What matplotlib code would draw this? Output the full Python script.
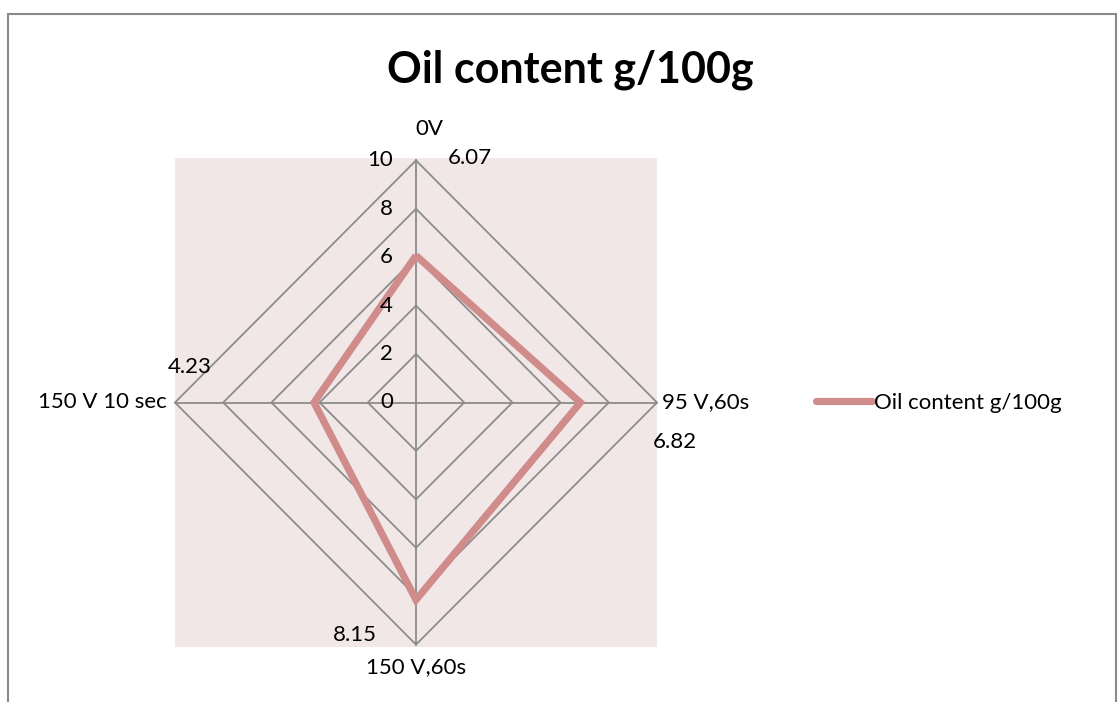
import numpy as np
import matplotlib.pyplot as plt
from matplotlib.patches import Rectangle

categories = ["0V", "95 V,60s", "150 V,60s", "150 V 10 sec"]
oil_content = [6.07, 6.82, 8.15, 4.23]
grid_levels = [2, 4, 6, 8, 10]
tick_labels = ["0", "2", "4", "6", "8", "10"]

plt.rcParams['font.family'] = ['Lato', 'DejaVu Sans']

LINE_COLOR = "#D08B8B"
GRID_COLOR = "#8C8C8C"
BG_COLOR = "#F2E7E7"
FS = 16

# spokes clockwise from the top
angles = np.pi / 2 - np.arange(len(categories)) * 2 * np.pi / len(categories)


def to_xy(r):
    r = np.asarray(r, dtype=float)
    return r * np.cos(angles), r * np.sin(angles)


fig = plt.figure(figsize=(11.18, 7.02), dpi=100)
ax = fig.add_axes([175 / 1118, 1 - 647 / 702, 482 / 1118, 489 / 702])
ax.set_facecolor(BG_COLOR)
ax.set_xlim(-10, 10)
ax.set_ylim(-10.1, 10.1)
for s in ax.spines.values():
    s.set_visible(False)
ax.set_xticks([])
ax.set_yticks([])

# polygon gridlines
for lvl in grid_levels:
    gx, gy = to_xy([lvl] * len(categories))
    ax.plot(np.append(gx, gx[0]), np.append(gy, gy[0]), color=GRID_COLOR,
            lw=1.3, clip_on=False, zorder=1)

# spokes
ex, ey = to_xy([10] * len(categories))
for x1, y1 in zip(ex, ey):
    ax.plot([0, x1], [0, y1], color=GRID_COLOR, lw=1.3, clip_on=False, zorder=1)

# radial tick labels along the top spoke
for i, t in enumerate(tick_labels):
    ax.text(-0.95, i * 2, t, ha="right", va="center", fontsize=FS, zorder=3)

# data series
dx, dy = to_xy(oil_content)
line, = ax.plot(np.append(dx, dx[0]), np.append(dy, dy[0]), color=LINE_COLOR,
                lw=5.2, solid_joinstyle="miter", solid_capstyle="butt",
                clip_on=False, zorder=2, label="Oil content g/100g")

# data labels
label_pos = [(2.25, 10.1), (10.75, -1.65), (-2.55, -9.6), (-9.4, 1.45)]
for v, (lx, ly) in zip(oil_content, label_pos):
    ax.text(lx, ly, f"{v:.2f}", ha="center", va="center", fontsize=FS)

# category labels
ax.text(0.55, 11.3, categories[0], ha="center", va="center", fontsize=FS)
ax.text(10.2, 0, categories[1], ha="left", va="center", fontsize=FS)
ax.text(0, -10.95, categories[2], ha="center", va="center", fontsize=FS)
ax.text(-10.35, 0, categories[3], ha="right", va="center", fontsize=FS)

fig.text(570 / 1118, 1 - 70 / 702, "Oil content g/100g", ha="center", va="center",
         fontsize=31, fontweight="bold")

leg = fig.legend(handles=[line], loc="center left",
                 bbox_to_anchor=(816 / 1118, 1 - 403 / 702), frameon=False,
                 fontsize=FS, handlelength=2.5, handletextpad=0.1,
                 borderaxespad=0, borderpad=0)
leg.get_lines()[0].set_solid_capstyle("round")

# chart border
fig.patches.append(Rectangle((8 / 1118, -0.1), 1108 / 1118, 1.1 - 14 / 702,
                             transform=fig.transFigure, fill=False,
                             edgecolor="#8A8A8A", lw=1.5))

fig.savefig("out.png", dpi=100)
